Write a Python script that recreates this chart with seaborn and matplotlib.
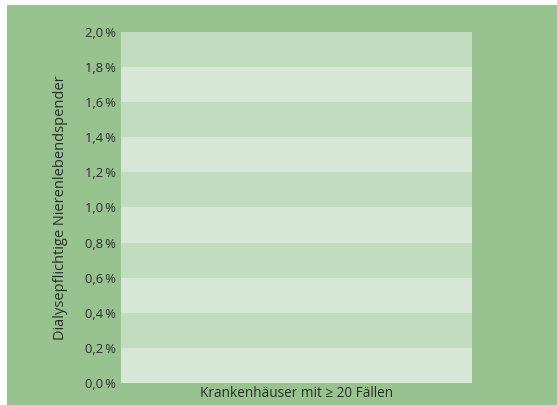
import numpy as np
import pandas as pd
import matplotlib
matplotlib.use("Agg")
import matplotlib.pyplot as plt
import seaborn as sb
from matplotlib.patches import Rectangle
from matplotlib.ticker import FuncFormatter

# data (chart shows no bar values)
categories = ["Krankenhäuser mit ≥ 20 Fällen"]
values = [np.nan]
yticks = [0.0, 0.002, 0.004, 0.006, 0.008, 0.010, 0.012, 0.014, 0.016, 0.018, 0.020]

bg = "#98c28f"
band_dark = "#c1dcbf"
band_light = "#d6e7d5"
txt = "#2b2b2b"

sb.set_style("white")
plt.rcParams['font.family'] = ['Open Sans', 'DejaVu Sans']

fig = plt.figure(figsize=(5.57, 4.05), dpi=100)
fig.patch.set_facecolor("white")
fig.patches.append(Rectangle((7/557, 0), 1 - 7/557, 400/405, transform=fig.transFigure,
                             facecolor=bg, edgecolor="none", zorder=-10))

ax = fig.add_axes([121/557, 22/405, 351/557, 351/405])
ax.set_facecolor(band_light)

df = pd.DataFrame({"cat": categories, "val": values})
sb.barplot(data=df, x="cat", y="val", ax=ax, color="#4c8c3f", linewidth=0)

for i in range(len(yticks) - 1):
    ax.axhspan(yticks[i], yticks[i + 1], color=band_light if i % 2 == 0 else band_dark,
               linewidth=0, zorder=0)

ax.set_ylim(0, 0.02)
ax.set_yticks(yticks)
ax.yaxis.set_major_formatter(FuncFormatter(lambda v, p: f"{v*100:.1f}".replace(".", ",") + "\u2009%"))
ax.tick_params(axis="y", length=0, pad=4, labelsize=9.3, labelcolor=txt)
ax.tick_params(axis="x", length=0, pad=2, labelsize=9.8, labelcolor=txt)
ax.set_xlabel("")
ax.set_ylabel("Dialysepflichtige Nierenlebendspender", fontsize=10.5, color=txt, labelpad=12)
for s in ax.spines.values():
    s.set_visible(False)
ax.grid(False)

fig.savefig("out.png", dpi=100)
